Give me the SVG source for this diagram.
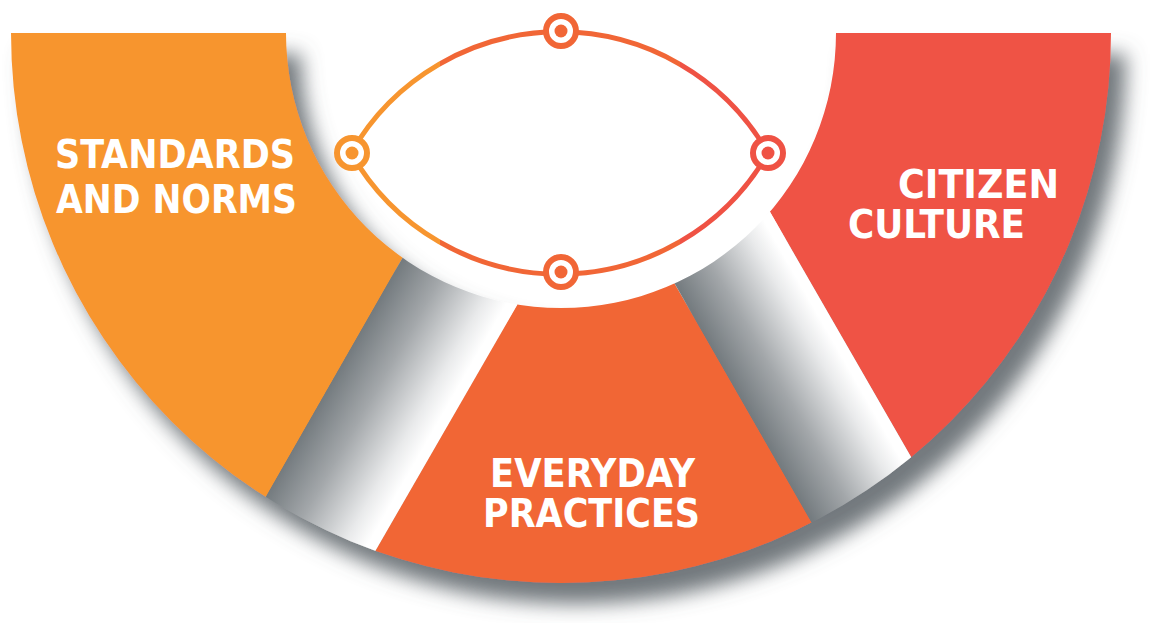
<svg xmlns="http://www.w3.org/2000/svg" width="1154" height="623" viewBox="0 0 1154 623">
  <defs>
    <style>
      .lbl { font-family: "DejaVu Sans Condensed", "DejaVu Sans", sans-serif; font-weight: bold; font-stretch: condensed; font-size: 39px; fill: #ffffff; }
      .node-ring { fill: #ffffff; stroke-width: 6; }
    </style>
    <clipPath id="annulus">
      <path d="M 11 33 A 550 550 0 0 0 1111 33 L 836 33 A 275 275 0 0 1 286 33 Z"/>
    </clipPath>
    <filter id="shadow" x="-10%" y="-10%" width="125%" height="135%">
      <feDropShadow dx="15" dy="21" stdDeviation="10" flood-color="#5a6166" flood-opacity="0.85"/>
    </filter>
    <linearGradient id="bandL" gradientUnits="userSpaceOnUse" x1="400" y1="262" x2="506.6" y2="323.3">
      <stop offset="0" stop-color="#737a7e"/>
      <stop offset="0.35" stop-color="#a3a7aa"/>
      <stop offset="0.75" stop-color="#e9eaeb"/>
      <stop offset="0.92" stop-color="#ffffff"/>
    </linearGradient>
    <linearGradient id="bandR" gradientUnits="userSpaceOnUse" x1="677" y1="288" x2="779.7" y2="229">
      <stop offset="0" stop-color="#737a7e"/>
      <stop offset="0.35" stop-color="#a3a7aa"/>
      <stop offset="0.75" stop-color="#e9eaeb"/>
      <stop offset="0.92" stop-color="#ffffff"/>
    </linearGradient>
    <linearGradient id="lensGrad" gradientUnits="userSpaceOnUse" x1="351" y1="0" x2="768" y2="0">
      <stop offset="0" stop-color="#F7952F"/>
      <stop offset="0.213" stop-color="#F7952F"/>
      <stop offset="0.213" stop-color="#F16636"/>
      <stop offset="0.789" stop-color="#F16636"/>
      <stop offset="0.789" stop-color="#EF5244"/>
      <stop offset="1" stop-color="#EF5244"/>
    </linearGradient>
  </defs>

  <rect width="1154" height="623" fill="#ffffff"/>

  <g id="ring" filter="url(#shadow)">
    <g clip-path="url(#annulus)">
      <g id="standards-and-norms">
        <polygon points="0,0 550,0 184,640 0,640" fill="#F7952F"/>
      </g>
      <g id="everyday-practices">
        <polygon points="602,157 879,640 324,640" fill="#F16636"/>
      </g>
      <g id="citizen-culture">
        <polygon points="648,0 1154,0 1154,640 1016.5,640" fill="#EF5244"/>
      </g>
      <g id="band-left">
        <polygon points="550,0 693,0 324,640 184,640" fill="url(#bandL)"/>
      </g>
      <g id="band-right">
        <polygon points="512,0 648,0 1016.5,640 879,640" fill="url(#bandR)"/>
      </g>
    </g>
  </g>

  <g id="labels">
    <text class="lbl" x="55" y="168" textLength="240" lengthAdjust="spacingAndGlyphs">STANDARDS</text>
    <text class="lbl" x="56" y="213" textLength="241" lengthAdjust="spacingAndGlyphs">AND NORMS</text>
    <text class="lbl" x="898" y="198" textLength="161" lengthAdjust="spacingAndGlyphs">CITIZEN</text>
    <text class="lbl" x="848" y="238" textLength="177" lengthAdjust="spacingAndGlyphs">CULTURE</text>
    <text class="lbl" x="490" y="487" textLength="205" lengthAdjust="spacingAndGlyphs">EVERYDAY</text>
    <text class="lbl" x="483" y="527" textLength="217" lengthAdjust="spacingAndGlyphs">PRACTICES</text>
  </g>

  <g id="connectors">
    <path d="M 351 153 A 240 240 0 0 1 768 153 A 240 240 0 0 1 351 153 Z" fill="none" stroke="url(#lensGrad)" stroke-width="5"/>
  </g>

  <g id="node-left">
    <circle class="node-ring" cx="352" cy="153" r="15" stroke="#F7952F"/>
    <circle cx="352" cy="153" r="6.5" fill="#F7952F"/>
  </g>
  <g id="node-top">
    <circle class="node-ring" cx="561" cy="31" r="15" stroke="#F16636"/>
    <circle cx="561" cy="31" r="6.5" fill="#F16636"/>
  </g>
  <g id="node-right">
    <circle class="node-ring" cx="768" cy="153" r="15" stroke="#EF5244"/>
    <circle cx="768" cy="153" r="6.5" fill="#EF5244"/>
  </g>
  <g id="node-bottom">
    <circle class="node-ring" cx="561" cy="272" r="15" stroke="#F16636"/>
    <circle cx="561" cy="272" r="6.5" fill="#F16636"/>
  </g>
</svg>
